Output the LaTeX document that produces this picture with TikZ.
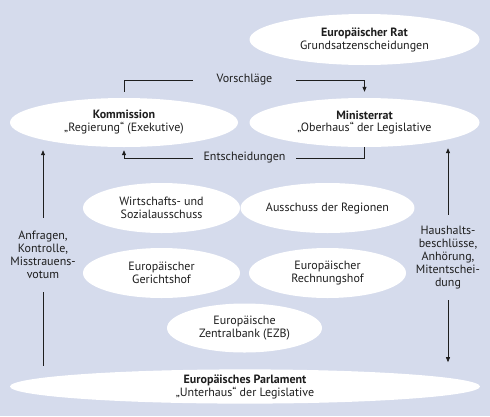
\documentclass[tikz,border=0pt]{standalone}
\usepackage{fontspec}
\setmainfont{PT Sans}
\usetikzlibrary{shapes.geometric,arrows.meta}
\definecolor{bgblue}{HTML}{D5DBEC}
\definecolor{ink}{HTML}{1E1E1E}
\begin{document}
\begin{tikzpicture}[x=1pt,y=-1pt,
  every node/.style={font=\fontsize{12}{13}\selectfont, align=center, text=ink},
  oval/.style={ellipse, fill=white, draw=none, inner sep=0pt},
  bigoval/.style={oval, minimum width=230pt, minimum height=49pt},
  smalloval/.style={oval, minimum width=157pt, minimum height=50pt},
  lab/.style={inner sep=0pt},
  conn/.style={line width=0.7pt, draw=ink},
  tip/.style={-{Triangle[length=5pt,width=4pt]}}]
\fill[bgblue] (0,0) rectangle (490,416);
\useasboundingbox (0,0) rectangle (490,416);
\node[bigoval, minimum height=51pt] (rat) at (364.5,39.5) {\textbf{Europäischer Rat}\\Grundsatzenscheidungen};
\node[bigoval, minimum width=228pt] (komm) at (124,122.5) {\textbf{Kommission}\\„Regierung“ (Exekutive)};
\node[bigoval] (mini) at (364.5,122.5) {\textbf{Ministerrat}\\„Oberhaus“ der Legislative};
\node[smalloval] (wiso) at (161.5,208) {Wirtschafts- und\\Sozialausschuss};
\node[smalloval] (adr) at (327.5,208) {Ausschuss der Regionen};
\node[smalloval] (eugh) at (161.5,273) {Europäischer\\Gerichtshof};
\node[smalloval] (rh) at (327.5,273) {Europäischer\\Rechnungshof};
\node[smalloval, minimum width=155pt, minimum height=49pt] (ezb) at (244.5,328) {Europäische\\Zentralbank (EZB)};
\node[oval, minimum width=470pt, minimum height=33pt] (parl) at (245,386.5) {\textbf{Europäisches Parlament}\\„Unterhaus“ der Legislative};

\node[lab, minimum width=103pt] (vor) at (244.5,80) {Vorschläge};
\node[lab, minimum width=103pt] (ent) at (244.5,158) {Entscheidungen};
\node[lab, minimum height=74pt] (lt) at (43,255) {Anfragen,\\Kontrolle,\\Misstrauens-\\votum};
\node[lab, minimum height=85pt] (rt) at (448,257.5) {Haushalts-\\beschlüsse,\\Anhörung,\\Mitentschei-\\dung};

\draw[conn, shorten <=6pt] (komm.north) |- (vor.west);
\draw[conn, tip, shorten >=6pt] (vor.east) -| (mini.north);
\draw[conn] (mini.south) |- (ent.east);
\draw[conn, tip, shorten >=3pt] (ent.west) -| (komm.south);
\draw[conn, tip, shorten >=3pt] (lt.north) -- (lt.north |- komm.south);
\draw[conn, shorten >=3pt] (lt.south) -- (lt.south |- parl.north);
\draw[conn, tip, shorten >=1pt] (rt.north) -- (rt.north |- mini.south);
\draw[conn, tip, shorten >=7pt] (rt.south) -- (rt.south |- parl.north);
\end{tikzpicture}
\end{document}
